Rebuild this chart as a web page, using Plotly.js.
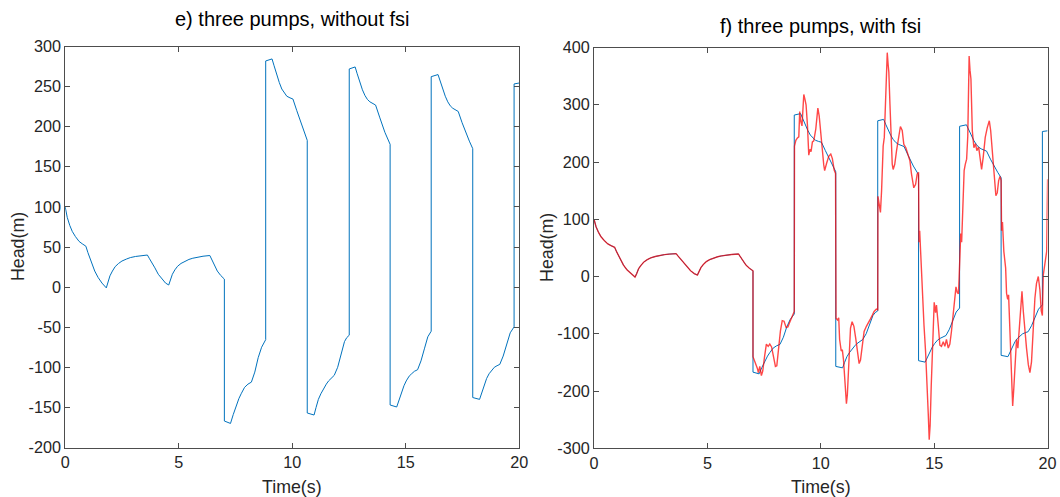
<!DOCTYPE html>
<html>
<head>
<meta charset="utf-8">
<script src="https://cdn.plot.ly/plotly-3.0.1.min.js"></script>
<style>html,body{margin:0;padding:0;background:#fff;}#chart{width:1060px;height:497px;}</style>
</head>
<body>
<div id="chart"></div>
<script>
// ---- data ----
// common start (0 .. 7 s): identical for both runs
const earlyTime = [0,0.09,0.2,0.31,0.45,0.61,0.75,0.91,1.0,1.13,1.3,1.45,1.62,1.81,1.88,1.97,2.08,2.2,2.35,2.5,2.7,2.87,3.1,3.32,3.62,3.7,3.81,3.95,4.1,4.26,4.42,4.56,4.63,4.72,4.83,4.95,5.1,5.25,5.45,5.62,5.85,6.07,6.37,6.45,6.57,6.7,6.85,7.01];
const earlyHead = [100,87,77,69.5,63,57,54,51,43,32,20,12,5,-1,5,14,20,25.5,29.5,32.5,35,36.8,38.2,39.2,40,36,31,24,16,10,5,2.6,8.5,16,21.5,26,29.5,32,34.5,36,37.5,38.5,39.4,35,27,20,14.5,10];

// without fsi (after 7 s)
const timeNoFsi = [7.01,7.28,7.4,7.53,7.65,7.75,7.9,8.05,8.2,8.35,8.5,8.65,8.83,
  8.83,9.11,9.2,9.32,9.43,9.54,9.65,9.76,9.9,10.03,10.2,10.37,10.52,10.66,
  10.66,10.96,11.05,11.15,11.26,11.37,11.5,11.6,11.72,11.85,12.0,12.15,12.3,12.4,12.51,
  12.51,12.77,12.86,12.98,13.09,13.2,13.31,13.42,13.56,13.67,13.86,14.08,14.31,
  14.31,14.6,14.7,14.8,14.92,15.02,15.15,15.26,15.38,15.52,15.67,15.82,15.97,16.12,
  16.12,16.42,16.51,16.63,16.74,16.85,16.96,17.07,17.2,17.31,17.48,17.63,17.8,17.95,
  17.95,18.25,18.35,18.45,18.56,18.67,18.8,18.9,19.02,19.14,19.29,19.44,19.6,19.77,
  19.77,20];
const headNoFsi = [-167,-170,-159,-148,-139,-133,-125,-121,-118.5,-106,-88,-75,-65.5,
  282,284.5,276,264,255,247,242,238,236,234.5,220,206,193,183,
  -157,-159.5,-150,-140,-133,-127,-121,-117,-113,-110,-100,-85,-68,-63,-60,
  272,274.5,266,255,246,239,234,231,228.5,227,211,193,178,
  -147,-149.5,-141,-131,-123,-117,-111,-108,-105,-103,-92,-77,-62,-55,
  262.4,265,257,246,238,231,226,223,220.5,219,205,193,182,172.6,
  -137.7,-140,-131,-122,-114,-108,-103,-100,-98,-96.4,-86,-71,-57,-49.6,
  253.3,254.5];

// with fsi (after 7 s)
const timeFsi = [7.01,7.06,7.13,7.2,7.25,7.31,7.38,7.44,7.52,7.6,7.68,7.75,7.83,7.92,8.0,8.06,8.14,8.22,8.3,8.38,8.47,8.55,8.63,8.72,8.8,8.83,
  8.84,8.9,8.97,9.03,9.07,9.11,9.17,9.25,9.3,9.35,9.41,9.47,9.52,9.57,9.63,9.69,9.78,9.87,9.93,9.98,10.06,10.13,10.17,10.25,10.35,10.44,10.51,10.59,10.65,
  10.67,10.74,10.79,10.83,10.9,10.95,11.0,11.06,11.13,11.17,11.24,11.31,11.38,11.46,11.54,11.63,11.69,11.75,11.82,11.91,12.01,12.1,12.19,12.28,12.35,12.45,12.51,
  12.52,12.57,12.63,12.68,12.71,12.75,12.8,12.86,12.93,12.97,13.0,13.05,13.09,13.15,13.19,13.26,13.34,13.41,13.51,13.59,13.66,13.75,13.85,13.93,14.0,14.1,14.18,14.25,14.31,
  14.33,14.36,14.39,14.43,14.49,14.55,14.62,14.69,14.74,14.78,14.82,14.87,14.92,14.96,15.0,15.06,15.1,15.18,15.25,15.32,15.4,15.47,15.54,15.62,15.69,15.76,15.84,15.91,15.96,16.02,16.07,16.1,
  16.13,16.17,16.21,16.26,16.32,16.37,16.43,16.48,16.54,16.58,16.62,16.68,16.75,16.82,16.88,16.96,17.01,17.09,17.16,17.25,17.34,17.43,17.49,17.56,17.65,17.72,17.78,17.84,17.9,17.95,
  17.97,18.01,18.04,18.07,18.15,18.19,18.24,18.28,18.34,18.41,18.46,18.51,18.57,18.63,18.69,18.75,18.81,18.87,18.93,19.0,19.07,19.15,19.22,19.29,19.37,19.44,19.51,19.59,19.66,19.72,19.77,19.81,19.88,19.96,20.0];
const headFsi = [-140,-145,-150,-160,-168,-157,-173,-165,-140,-118,-122,-118,-123,-140,-157,-156,-125,-95,-77,-78,-89,-88,-80,-70,-63,-61,
  228,238,242,244,288,272,263,318,310,300,265,212,222,218,235,237,258,294,280,262,225,195,185,197,210,214,206,186,180,
  -73,-76,-72,-110,-130,-128,-145,-178,-222,-207,-155,-90,-79,-87,-108,-137,-152,-146,-120,-96,-87,-79,-74,-67,-61,-57,-58,
  140,125,112,150,180,228,243,320,391,370,357,300,249,196,187,196,220,237,262,255,231,225,214,202,179,155,161,179,182,
  60,80,50,32,-44,-85,-131,-184,-242,-285,-260,-190,-120,-67,-45,-63,-50,-85,-120,-122,-114,-122,-110,-125,-118,-96,-61,-30,-18,-28,-30,0,
  44,75,60,120,185,196,205,245,385,360,345,255,225,232,220,226,210,187,208,243,260,272,255,220,167,141,146,167,175,168,
  80,95,70,44,15,-29,-40,-32,-96,-184,-226,-195,-137,-110,-125,-96,-67,-26,-61,-96,-125,-154,-168,-149,-90,-38,-12,0,-23,-60,-68,3,22,44,170];

const xTicks = [0,5,10,15,20];
const yTicksLeft = [-200,-150,-100,-50,0,50,100,150,200,250,300];
const yTicksRight = [-300,-200,-100,0,100,200,300,400];
const panelTitles = ['e) three pumps, without fsi', 'f) three pumps, with fsi'];
const xTitle = 'Time(s)';
const yTitle = 'Head(m)';

// ---- build ----
const blueT = earlyTime.concat(timeNoFsi);
const blueH = earlyHead.concat(headNoFsi);
const redT = earlyTime.concat(timeFsi);
const redH = earlyHead.concat(headFsi);

const W = 1060, H = 497;
const BLUE = '#0072BD';
const FONT = 'Liberation Sans, Arial, Helvetica, sans-serif';
const TXT = '#262626';
const AX = '#4d4d4d';

// plot boxes in pixels [left, right, top, bottom]
const boxL = [65.2, 519.3, 46.5, 447.5];
const boxR = [594.0, 1047.6, 47.5, 448.3];

const traces = [
  {x: blueT, y: blueH, type: 'scatter', mode: 'lines', xaxis: 'x', yaxis: 'y',
   line: {color: BLUE, width: 1}, hoverinfo: 'skip'},
  {x: blueT, y: blueH, type: 'scatter', mode: 'lines', xaxis: 'x2', yaxis: 'y2',
   line: {color: BLUE, width: 1}, hoverinfo: 'skip'},
  {x: redT, y: redH, type: 'scatter', mode: 'lines', xaxis: 'x2', yaxis: 'y2',
   line: {color: 'rgba(255,0,0,0.72)', width: 1.4}, hoverinfo: 'skip'}
];

function xax(box, anchor) {
  return {domain: [box[0]/W, box[1]/W], anchor: anchor, range: [0, 20],
    tickvals: xTicks, ticktext: xTicks.map(String),
    ticks: 'inside', ticklen: 5, tickcolor: AX, showline: true, linecolor: AX, linewidth: 1,
    mirror: 'allticks', showgrid: false, zeroline: false,
    tickfont: {family: FONT, size: 16.2, color: TXT}};
}
function yax(box, anchor, vals) {
  return {domain: [(H-box[3])/H, (H-box[2])/H], anchor: anchor,
    range: [vals[0], vals[vals.length-1]],
    tickvals: vals, ticktext: vals.map(String),
    ticks: 'inside', ticklen: 5, tickcolor: AX, showline: true, linecolor: AX, linewidth: 1,
    mirror: 'allticks', showgrid: false, zeroline: false,
    tickfont: {family: FONT, size: 16.2, color: TXT}};
}
function note(text, px, py, size, color, angle) {
  return {text: text, xref: 'paper', yref: 'paper', x: px/W, y: 1 - py/H,
    xanchor: 'center', yanchor: 'middle', showarrow: false, textangle: angle || 0,
    font: {family: FONT, size: size, color: color}};
}

const layout = {
  width: W, height: H,
  margin: {l: 0, r: 0, t: 0, b: 0},
  paper_bgcolor: '#ffffff', plot_bgcolor: '#ffffff',
  showlegend: false,
  xaxis: xax(boxL, 'y'),
  yaxis: yax(boxL, 'x', yTicksLeft),
  xaxis2: xax(boxR, 'y2'),
  yaxis2: yax(boxR, 'x2', yTicksRight),
  annotations: [
    note(panelTitles[0], (boxL[0]+boxL[1])/2, 19, 20, '#000'),
    note(panelTitles[1], (boxR[0]+boxR[1])/2, 25.5, 20, '#000'),
    note(xTitle, (boxL[0]+boxL[1])/2, 487, 17.8, TXT),
    note(xTitle, (boxR[0]+boxR[1])/2, 487, 17.8, TXT),
    note(yTitle, 18, (boxL[2]+boxL[3])/2, 17.8, TXT, -90),
    note(yTitle, 547, (boxR[2]+boxR[3])/2, 17.8, TXT, -90)
  ]
};

Plotly.newPlot('chart', traces, layout, {staticPlot: true, displayModeBar: false});
</script>
</body>
</html>
